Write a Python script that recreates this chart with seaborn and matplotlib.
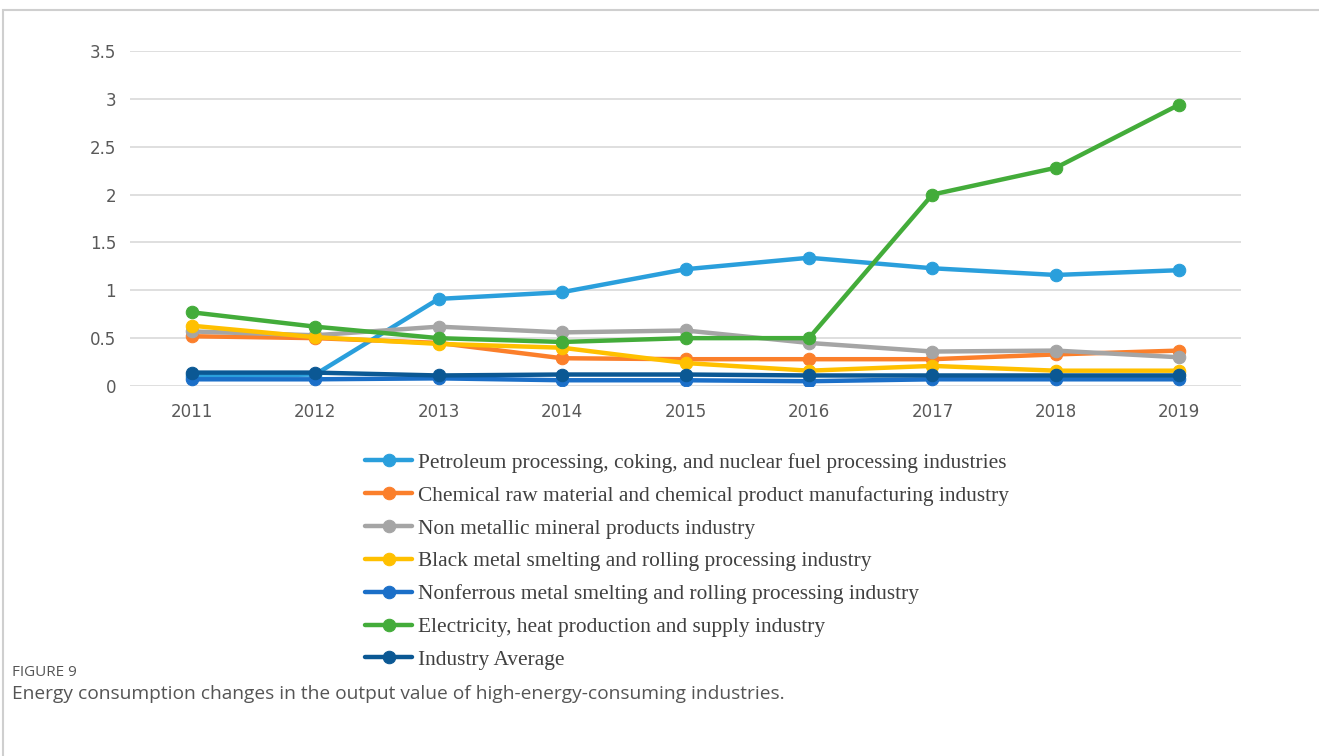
import pandas as pd
import matplotlib.pyplot as plt
import matplotlib.patches as mpatches
import seaborn as sns

# Data
years = [2011, 2012, 2013, 2014, 2015, 2016, 2017, 2018, 2019]
petroleum = [0.10, 0.12, 0.91, 0.98, 1.22, 1.34, 1.23, 1.16, 1.21]
chemical = [0.52, 0.50, 0.45, 0.29, 0.28, 0.28, 0.28, 0.33, 0.37]
non_metallic = [0.57, 0.53, 0.62, 0.56, 0.58, 0.45, 0.36, 0.37, 0.30]
black_metal = [0.63, 0.51, 0.44, 0.40, 0.24, 0.16, 0.21, 0.16, 0.16]
nonferrous = [0.07, 0.07, 0.08, 0.06, 0.06, 0.05, 0.07, 0.07, 0.07]
electricity = [0.77, 0.62, 0.50, 0.46, 0.50, 0.50, 2.00, 2.28, 2.94]
average = [0.14, 0.14, 0.11, 0.12, 0.12, 0.11, 0.11, 0.11, 0.11]

labels = [
    'Petroleum processing, coking, and nuclear fuel processing industries',
    'Chemical raw material and chemical product manufacturing industry',
    'Non metallic mineral products industry',
    'Black metal smelting and rolling processing industry',
    'Nonferrous metal smelting and rolling processing industry',
    'Electricity, heat production and supply industry',
    'Industry Average',
]
series = [petroleum, chemical, non_metallic, black_metal, nonferrous, electricity, average]
colors = ['#2a9fdc', '#fb7f2b', '#a5a5a5', '#ffc000', '#1b6fc8', '#43ac3a', '#0b5894']

rows = []
for lab, vals in zip(labels, series):
    for yr, v in zip(years, vals):
        rows.append({'year': yr, 'value': v, 'industry': lab})
df = pd.DataFrame(rows)

sns.set_style("white")

fig = plt.figure(figsize=(13.19, 7.56), dpi=100)
ax = fig.add_axes([130 / 1319, 1 - 386 / 756, 1111 / 1319, 335 / 756])

for lab, col in zip(labels, colors):
    sns.lineplot(data=df[df['industry'] == lab], x='year', y='value', ax=ax,
                 color=col, linewidth=3.2, marker='o', markersize=9,
                 markeredgecolor=col, label=lab)

ax.set_xlim(2010.5, 2019.5)
ax.set_ylim(0, 3.5)
ax.set_xticks(years)
ax.set_xticklabels([str(y) for y in years])
ax.set_yticks([0, 0.5, 1, 1.5, 2, 2.5, 3, 3.5])
ax.set_yticklabels(['0', '0.5', '1', '1.5', '2', '2.5', '3', '3.5'])
ax.grid(axis='y', color='#d9d9d9', linewidth=1.2)
ax.set_axisbelow(True)
for s in ax.spines.values():
    s.set_visible(False)
ax.tick_params(axis='both', length=0, labelsize=12, labelcolor='#595959', pad=10)
ax.tick_params(axis='x', pad=12)
ax.set_xlabel('')
ax.set_ylabel('')

handles, hl = ax.get_legend_handles_labels()
ax.legend(handles, hl, loc='upper left', bbox_to_anchor=(365 / 1319, 1 - 453 / 756),
          bbox_transform=fig.transFigure, frameon=False, borderpad=0, borderaxespad=0,
          handlelength=2.2, handletextpad=0.28, labelspacing=0.6,
          prop={'family': 'Liberation Serif', 'size': 15.4}, labelcolor='#404040')

# figure frame and caption
fig.patches.append(mpatches.Rectangle((3 / 1319, -0.1), 1.2, 1 - 10 / 756 + 0.1,
                                      transform=fig.transFigure, fill=False,
                                      edgecolor='#cfcfcf', linewidth=1.5))
fig.text(12 / 1319, 1 - 673 / 756, 'FIGURE 9', fontsize=11, color='#555555',
         family='Open Sans', va='center')
fig.text(12 / 1319, 1 - 694 / 756,
         'Energy consumption changes in the output value of high-energy-consuming industries.',
         fontsize=13.8, color='#555555', family='Open Sans', va='center')

fig.savefig('out.png', dpi=100)
